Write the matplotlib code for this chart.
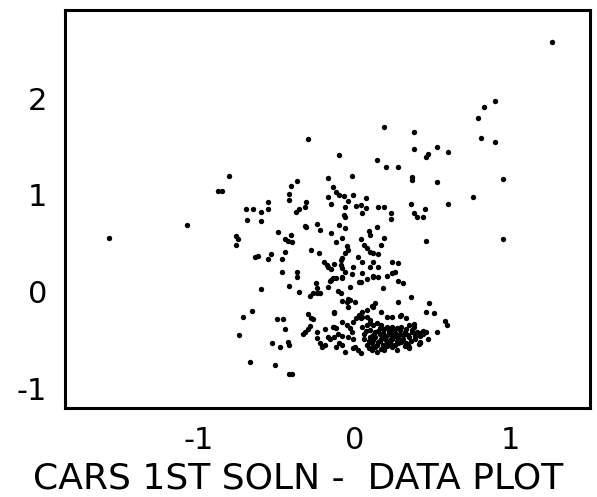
import numpy as np
import matplotlib
matplotlib.use("Agg")
import matplotlib.pyplot as plt

# data (first solution scores)
x_upper = [1.27, 0.90, 0.83, 0.79, 0.38, 0.19, -0.30, 0.81, 0.90, -0.81,
           -0.88, -0.85, -1.08, -1.58, -0.76, -0.75, -0.76, 0.38, 0.53, 0.60,
           0.47, 0.46, 0.37, 0.37, 0.53, 0.95, 0.76, 0.36, 0.60, 0.38,
           0.40, 0.45, 0.44, 0.46, 0.95, -0.10, 0.14, 0.20, 0.28, -0.02,
           -0.17, -0.37, -0.41, -0.14, -0.12, -0.10, -0.07, -0.01, -0.17, 0.07,
           -0.42, -0.42, -0.04, -0.31, -0.32, -0.56, -0.15, 0.01, 0.04, 0.07,
           0.15, 0.19, -0.06, -0.70, -0.65, -0.56, -0.60, -0.36, -0.38, 0.23,
           0.05, -0.07, -0.06, 0.23, -0.69, -0.60, -0.32, -0.31, -0.24, -0.22,
           -0.10, -0.06, 0.14, 0.09, 0.10, -0.49, -0.15, -0.41, -0.45, -0.43,
           -0.40, -0.08, 0.19, 0.04, -0.12, 0.17, 0.06, 0.08, 0.10, 0.12,
           0.15, -0.05, -0.04, -0.06, -0.08, -0.09, -0.28, -0.23, -0.54, -0.64,
           -0.62, -0.56, -0.47, -0.45, 0.02, 0.05, 0.12, -0.20, -0.18, -0.17,
           -0.13, -0.15, 0.24, 0.28, -0.09, -0.08, -0.06, -0.08, -0.01, 0.15,
           -0.47, -0.37, -0.37, 0.05, 0.12, 0.21, 0.24, -0.14, -0.12, -0.02,
           0.08, 0.03, 0.28, 0.31, -0.42, -0.25, -0.24, -0.24, -0.27, -0.29,
           -0.16, -0.11, -0.09, -0.03, -0.17, 0.18, -0.60, -0.36, 0.36, -0.04,
           0.10, -0.08, 0.04, 0.12, 0.26, 0.15, -0.15]
y_upper = [2.58, 1.97, 1.91, 1.79, 1.65, 1.70, 1.58, 1.59, 1.55, 1.20,
           1.04, 1.04, 0.69, 0.56, 0.58, 0.55, 0.48, 1.47, 1.49, 1.44,
           1.42, 1.39, 1.19, 1.15, 1.13, 1.16, 0.98, 0.91, 0.91, 0.81,
           0.77, 0.85, 0.77, 0.52, 0.55, 1.41, 1.36, 1.29, 1.29, 1.20,
           1.18, 1.14, 1.09, 1.08, 1.03, 1.00, 0.99, 1.00, 0.98, 0.97,
           1.01, 0.95, 0.94, 0.93, 0.88, 0.93, 0.91, 0.89, 0.90, 0.87,
           0.88, 0.88, 0.88, 0.85, 0.86, 0.85, 0.82, 0.86, 0.82, 0.81,
           0.81, 0.79, 0.77, 0.75, 0.74, 0.73, 0.68, 0.67, 0.70, 0.64,
           0.69, 0.66, 0.67, 0.63, 0.59, 0.62, 0.61, 0.59, 0.54, 0.52,
           0.51, 0.56, 0.56, 0.55, 0.51, 0.48, 0.48, 0.45, 0.41, 0.40,
           0.39, 0.47, 0.43, 0.40, 0.35, 0.33, 0.43, 0.40, 0.39, 0.36,
           0.37, 0.34, 0.34, 0.41, 0.36, 0.31, 0.31, 0.31, 0.28, 0.26,
           0.29, 0.24, 0.31, 0.30, 0.28, 0.25, 0.20, 0.15, 0.26, 0.26,
           0.20, 0.20, 0.15, 0.19, 0.16, 0.16, 0.19, 0.14, 0.14, 0.18,
           0.13, 0.10, 0.11, 0.09, 0.06, 0.09, 0.04, -0.01, -0.01, -0.04,
           0.11, 0.01, -0.01, 0.05, 0.05, 0.04, 0.03, 0.00, -0.05, -0.07,
           0.26, 0.14, 0.10, 0.15, 0.20, 0.15, 0.12]

x_lower = [-0.08, -0.03, -0.04, -0.13, 0.00, 0.13, 0.12, 0.08, 0.05, 0.03,
           0.01, 0.28, -0.30, -0.28, -0.72, -0.66, -0.50, -0.46, -0.45, -0.74,
           -0.29, -0.30, -0.32, -0.33, -0.24, -0.19, -0.13, -0.12, -0.08, -0.05,
           -0.03, -0.02, -0.53, -0.48, -0.43, -0.42, -0.67, -0.51, -0.40, -0.42,
           -0.24, -0.22, -0.21, -0.19, -0.16, -0.13, -0.11, -0.08, -0.04, -0.01,
           -0.12, -0.06, 0.00, 0.02, 0.04, 0.04, 0.08, 0.10, 0.21, 0.24,
           0.30, 0.33, 0.17, 0.34, 0.11, 0.29, -0.22, -0.05, -0.13, 0.11,
           -0.01, 0.05, 0.48, 0.46, 0.51, 0.58, 0.59, 0.29, -0.27, -0.14,
           -0.17, -0.10, -0.08, -0.01]
y_lower = [-0.10, -0.08, -0.16, -0.21, -0.11, -0.12, -0.16, -0.19, -0.21, -0.24,
           -0.27, -0.11, -0.23, -0.27, -0.26, -0.20, -0.28, -0.28, -0.38, -0.45,
           -0.35, -0.38, -0.41, -0.44, -0.42, -0.38, -0.36, -0.37, -0.31, -0.34,
           -0.37, -0.41, -0.53, -0.57, -0.52, -0.55, -0.72, -0.76, -0.85, -0.85,
           -0.48, -0.53, -0.57, -0.55, -0.49, -0.47, -0.44, -0.46, -0.47, -0.49,
           -0.57, -0.62, -0.57, -0.60, -0.63, -0.27, -0.26, -0.29, -0.26, -0.26,
           -0.24, -0.27, -0.21, -0.55, -0.60, -0.52, -0.01, -0.11, -0.22, -0.15,
           -0.31, -0.26, -0.12, -0.21, -0.22, -0.30, -0.34, -0.25, -0.28, -0.36,
           -0.47, -0.53, -0.55, -0.58]

# dense knot of cars just right of zero
x_knot = [0.05, 0.08, 0.10, 0.12, 0.14, 0.17, 0.21, 0.24, 0.27, 0.30,
          0.35, 0.38, 0.40, 0.42, 0.46, 0.53, 0.47, 0.33, 0.35, 0.42,
          0.24, 0.27, 0.14, 0.06, 0.10, 0.13, 0.16, 0.19, 0.22, 0.26,
          0.29, 0.32, 0.35, 0.37, 0.11, 0.15, 0.18, 0.21, 0.24, 0.28,
          0.31, 0.08, 0.06, 0.13, 0.19, 0.16, 0.22, 0.29, 0.26, 0.21,
          0.17, 0.13, 0.10, 0.38, 0.37, 0.42, 0.44, 0.42, 0.41, 0.35,
          0.07, 0.09, 0.12, 0.15, 0.18, 0.20, 0.23, 0.25, 0.28, 0.31,
          0.33, 0.36, 0.39, 0.11, 0.14, 0.17, 0.20, 0.23, 0.26, 0.30,
          0.34, 0.16, 0.19, 0.23, 0.27, 0.12, 0.09, 0.32, 0.39, 0.44]
y_knot = [-0.36, -0.34, -0.32, -0.34, -0.32, -0.34, -0.36, -0.36, -0.37, -0.36,
          -0.34, -0.36, -0.41, -0.46, -0.42, -0.42, -0.49, -0.53, -0.57, -0.53,
          -0.57, -0.60, -0.62, -0.44, -0.47, -0.41, -0.44, -0.47, -0.42, -0.46,
          -0.44, -0.41, -0.47, -0.42, -0.53, -0.52, -0.55, -0.52, -0.49, -0.53,
          -0.49, -0.55, -0.49, -0.57, -0.60, -0.37, -0.39, -0.39, -0.55, -0.56,
          -0.49, -0.47, -0.39, -0.33, -0.39, -0.43, -0.44, -0.52, -0.54, -0.58,
          -0.40, -0.51, -0.45, -0.40, -0.43, -0.50, -0.45, -0.40, -0.48, -0.45,
          -0.38, -0.51, -0.46, -0.58, -0.55, -0.59, -0.46, -0.54, -0.43, -0.52,
          -0.45, -0.51, -0.38, -0.49, -0.51, -0.50, -0.58, -0.56, -0.49, -0.40]

x_vals = np.array(x_upper + x_lower + x_knot)
y_vals = np.array(y_upper + y_lower + y_knot)

x_ticks = [-1, 0, 1]
y_ticks = [-1, 0, 1, 2]

fig = plt.figure(figsize=(5.97, 4.97), dpi=100)
ax = fig.add_axes([0.109, 0.179, 0.879, 0.801])
ax.scatter(x_vals, y_vals, s=15, c="black", linewidths=0)

ax.set_xlim(-1.86, 1.51)
ax.set_ylim(-1.20, 2.91)
ax.set_xticks(x_ticks)
ax.set_yticks(y_ticks)
ax.set_xticklabels([str(v) for v in x_ticks])
ax.set_yticklabels([str(v) for v in y_ticks])
ax.tick_params(length=0, labelsize=22, pad=13)
for side in ax.spines.values():
    side.set_linewidth(2.2)

fig.text(0.50, 0.038, "CARS 1ST SOLN -  DATA PLOT", ha="center", va="center",
         fontsize=26)

fig.savefig("out.png", dpi=100)
